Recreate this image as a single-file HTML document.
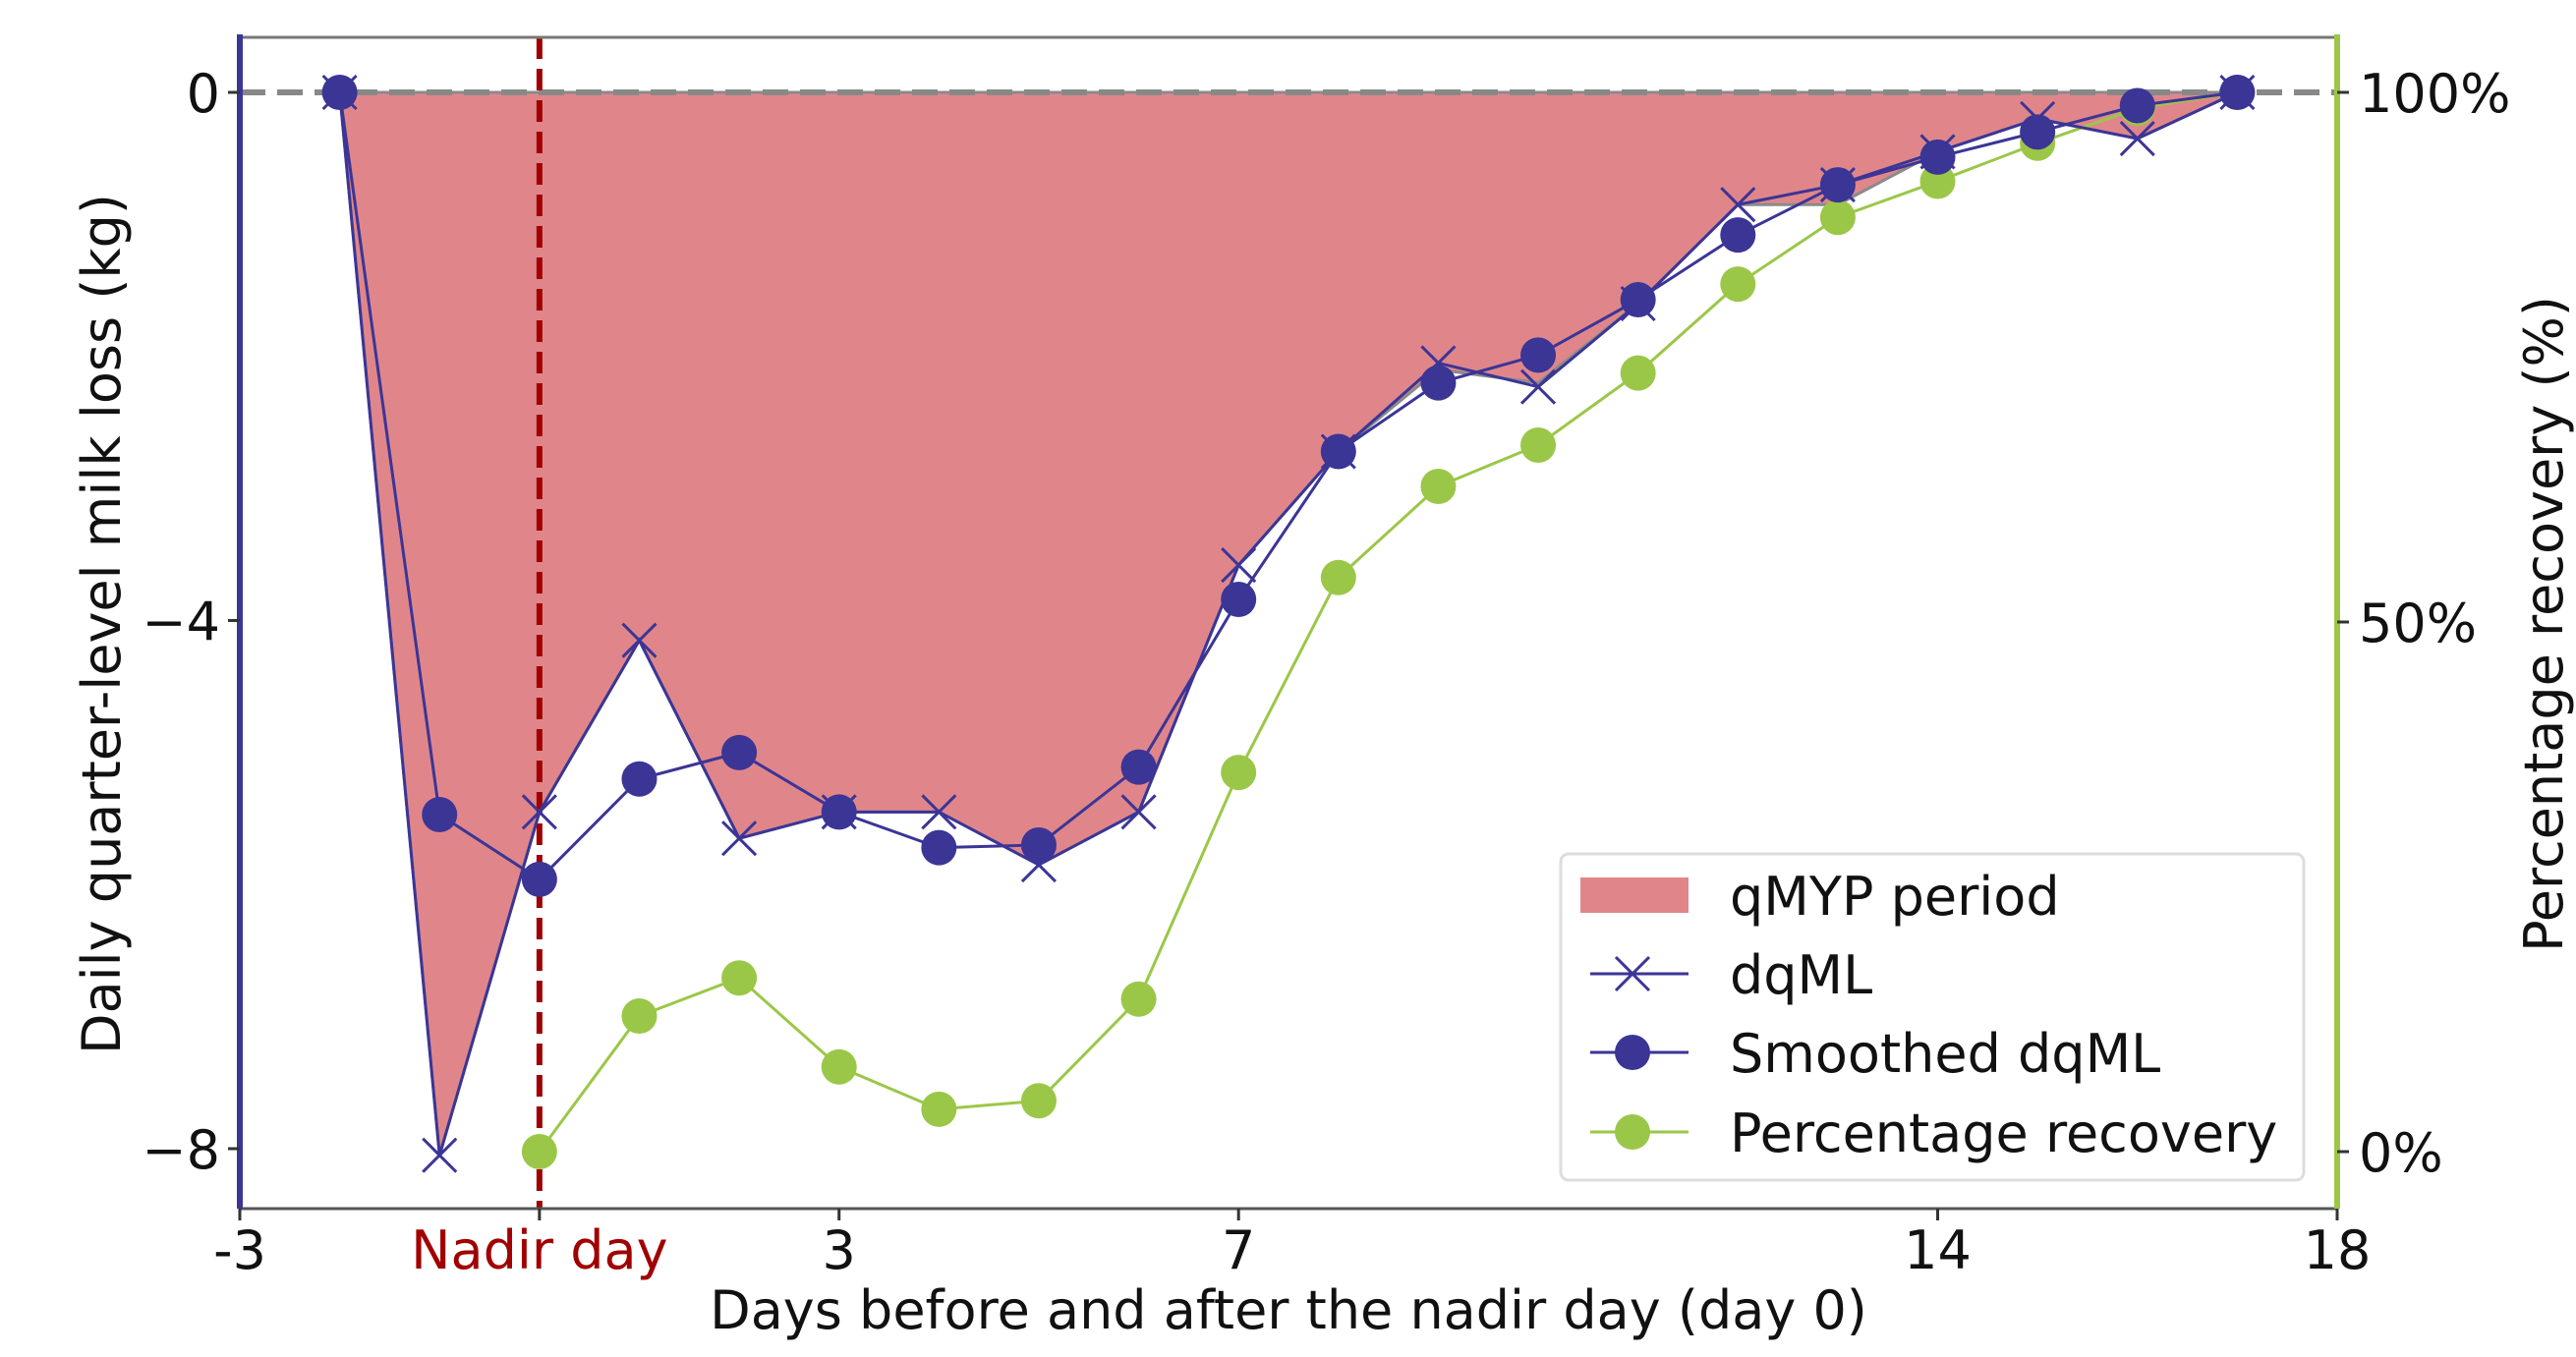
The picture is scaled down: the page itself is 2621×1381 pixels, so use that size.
<!DOCTYPE html>
<html><head><meta charset="utf-8">
<style>
html,body{margin:0;padding:0;background:#fff;}
svg{display:block;font-family:"DejaVu Sans","Liberation Sans",sans-serif;}
</style></head>
<body>
<svg id="chart" width="2621" height="1381" viewBox="0 0 2621 1381" xmlns="http://www.w3.org/2000/svg">
<g id="plot"></g>
</svg>
<script>
const days = [-2,-1,0,1,2,3,4,5,6,7,8,9,10,11,12,13,14,15,16,17];
const dqML = [0,-8.05,-5.45,-4.15,-5.65,-5.45,-5.45,-5.85,-5.45,-3.58,-2.72,-2.05,-2.23,-1.6,-0.85,-0.7,-0.45,-0.2,-0.35,0];
const fillBoundary = [0,-8.05,-5.45,-4.15,-5.65,-5.45,-5.45,-5.85,-5.45,-3.58,-2.72,-2.1,-2.2,-1.6,-0.85,-0.85,-0.45,-0.2,-0.35,0];
const smoothed = [0,-5.47,-5.96,-5.2,-5.0,-5.45,-5.72,-5.7,-5.11,-3.84,-2.72,-2.2,-1.99,-1.57,-1.08,-0.7,-0.49,-0.3,-0.1,0];
const pctDays = [0,1,2,3,4,5,6,7,8,9,10,11,12,13,14,15,16,17];
const pct = [0,12.8,16.4,8.0,4.0,4.8,14.4,35.8,54.2,62.8,66.7,73.5,81.9,88.2,91.6,95.2,98.5,100];
const xTickVals = [-3,0,3,7,14,18];
const xTickLabels = ["-3","Nadir day","3","7","14","18"];
const yTickVals = [0,-4,-8];
const yTickLabels = ["0","\u22124","\u22128"];
const pTickVals = [100,50,0];
const pTickLabels = ["100%","50%","0%"];

const L=244,R=2378,T=38,B=1230;
const FS=54;
const X=d=>L+(d-(-3))*(R-L)/21;
const Y=v=>94+(0-v)*(1169-94)/8;
const P=p=>1172-p*(1172-94)/100;
const NS="http://www.w3.org/2000/svg";
const g=document.getElementById('plot');
function el(tag,attrs,parent){const e=document.createElementNS(NS,tag);for(const k in attrs)e.setAttribute(k,attrs[k]);(parent||g).appendChild(e);return e;}

let d="M"+X(days[0])+","+Y(0);
days.forEach((x,i)=>{d+=" L"+X(x)+","+Y(fillBoundary[i]);});
d+=" L"+X(days[days.length-1])+","+Y(0)+" Z";
const area=el('path',{d:d,fill:'#e0868a',stroke:'#8a8a8a','stroke-width':3});



const zl=el('line',{x1:L,x2:R,y1:Y(0),y2:Y(0),stroke:'#888','stroke-width':6,'stroke-dasharray':'26,12'});



const nl=el('line',{x1:X(0),x2:X(0),y1:T,y2:B,stroke:'#a00000','stroke-width':6,'stroke-dasharray':'22,10'});



const pl=el('polyline',{points:pctDays.map((x,i)=>X(x)+","+P(pct[i])).join(" "),fill:'none',stroke:'#9bc748','stroke-width':3});


pctDays.forEach((x,i)=>{const c=el('circle',{cx:X(x),cy:P(pct[i]),r:18,fill:'#9bc748'});

});

const dl=el('polyline',{points:days.map((x,i)=>X(x)+","+Y(dqML[i])).join(" "),fill:'none',stroke:'#3b3596','stroke-width':3});


days.forEach((x,i)=>{const cx=X(x),cy=Y(dqML[i]),s=17;
const m=el('path',{d:`M${cx-s},${cy-s}L${cx+s},${cy+s}M${cx-s},${cy+s}L${cx+s},${cy-s}`,stroke:'#3b3596','stroke-width':3,fill:'none'});

});

const sl=el('polyline',{points:days.map((x,i)=>X(x)+","+Y(smoothed[i])).join(" "),fill:'none',stroke:'#3b3596','stroke-width':3});


days.forEach((x,i)=>{const c=el('circle',{cx:X(x),cy:Y(smoothed[i]),r:18,fill:'#3b3596'});

});

const st=el('line',{x1:L,x2:R,y1:T,y2:T,stroke:'#777','stroke-width':3});

const sb=el('line',{x1:L,x2:R,y1:B,y2:B,stroke:'#555','stroke-width':3});

const sL=el('line',{x1:L,x2:L,y1:T-3,y2:B,stroke:'#3b3596','stroke-width':6});

const sR=el('line',{x1:R,x2:R,y1:T-3,y2:B,stroke:'#9bc748','stroke-width':6});


xTickVals.forEach((v,i)=>{
 const tk=el('line',{x1:X(v),x2:X(v),y1:B,y2:B+12,stroke:'#333','stroke-width':3});
 
 const t=el('text',{x:X(v),y:1291,'text-anchor':'middle','font-size':FS,fill:v===0?'#a00000':'#111'});
 t.textContent=xTickLabels[i];
 
});
yTickVals.forEach((v,i)=>{
 const tk=el('line',{x1:L-12,x2:L,y1:Y(v),y2:Y(v),stroke:'#333','stroke-width':3});
 
 const t=el('text',{x:L-20,y:Y(v)+20,'text-anchor':'end','font-size':FS,fill:'#111'});
 t.textContent=yTickLabels[i];
 
});
pTickVals.forEach((v,i)=>{
 const tk=el('line',{x1:R,x2:R+12,y1:P(v),y2:P(v),stroke:'#333','stroke-width':3});
 
 const t=el('text',{x:R+22,y:P(v)+20,'font-size':FS,fill:'#111'});
 t.textContent=pTickLabels[i];
 
});

const xt=el('text',{x:1311,y:1352,'text-anchor':'middle','font-size':FS,fill:'#111'});
xt.textContent='Days before and after the nadir day (day 0)';

const yt=el('text',{x:0,y:0,'text-anchor':'middle','font-size':FS,fill:'#111',transform:'translate(122,635) rotate(-90)'});
yt.textContent='Daily quarter-level milk loss (kg)';

const rt=el('text',{x:0,y:0,'text-anchor':'middle','font-size':FS,fill:'#111',transform:'translate(2607,635) rotate(-90)'});
rt.textContent='Percentage recovery (%)';


const lg=el('g',{});

el('rect',{x:1588,y:869,width:756,height:332,rx:8,fill:'#fff','fill-opacity':0.85,stroke:'#ddd','stroke-width':3},lg);
const rows=[911,991,1071,1152];
const names=['qMYP period','dqML','Smoothed dqML','Percentage recovery'];
const keys=['legend-entry-qmyp','legend-entry-dqml','legend-entry-smoothed','legend-entry-percentage'];
const sw=el('rect',{x:1608,y:893,width:110,height:36,fill:'#e0868a'},lg);

el('line',{x1:1618,x2:1718,y1:rows[1],y2:rows[1],stroke:'#3b3596','stroke-width':3},lg);
el('path',{d:`M${1661-17},${rows[1]-17}l34,34M${1661-17},${rows[1]+17}l34,-34`,stroke:'#3b3596','stroke-width':3},lg);
el('line',{x1:1618,x2:1718,y1:rows[2],y2:rows[2],stroke:'#3b3596','stroke-width':3},lg);
el('circle',{cx:1661,cy:rows[2],r:18,fill:'#3b3596'},lg);
el('line',{x1:1618,x2:1718,y1:rows[3],y2:rows[3],stroke:'#9bc748','stroke-width':3},lg);
el('circle',{cx:1661,cy:rows[3],r:18,fill:'#9bc748'},lg);
rows.forEach((y,i)=>{const t=el('text',{x:1760,y:y+20,'font-size':FS,fill:'#111'},lg);t.textContent=names[i];
});
</script>
</body></html>
